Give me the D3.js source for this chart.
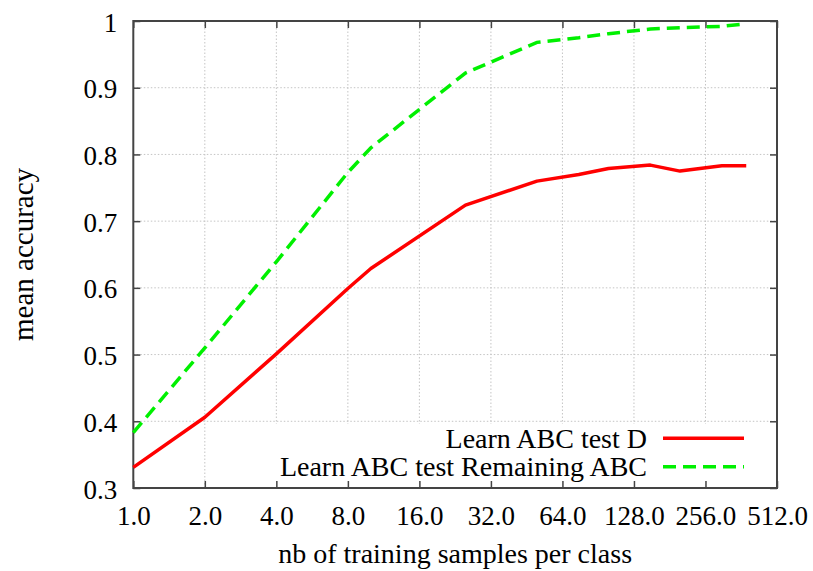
<!DOCTYPE html>
<html>
<head>
<meta charset="utf-8">
<script src="https://cdn.jsdelivr.net/npm/d3@7"></script>
<style>
  body { margin: 0; background: #fff; }
  text { font-family: "Liberation Serif", "DejaVu Serif", serif; fill: #000; }
</style>
</head>
<body>
<svg id="chart" width="813" height="571"></svg>
<script>
// ---- data ----
const samples = [1, 2, 4, 8, 10, 25, 50, 75, 100, 150, 200, 300, 380];
const testD = [0.331, 0.406, 0.501, 0.599, 0.629, 0.724, 0.760, 0.770, 0.779, 0.784, 0.775, 0.783, 0.783];
const testRemaining = [0.383, 0.510, 0.639, 0.773, 0.810, 0.922, 0.968, 0.975, 0.981, 0.988, 0.990, 0.992, 0.996];
const xTicks = [1, 2, 4, 8, 16, 32, 64, 128, 256, 512];
const yTicks = [0.3, 0.4, 0.5, 0.6, 0.7, 0.8, 0.9, 1.0];
const seriesNames = ["Learn ABC test D", "Learn ABC test Remaining ABC"];

// ---- layout ----
const L = 133.3, R = 777, T = 21, B = 488;
const FONT = 27, FONT_T = 28;
const svg = d3.select("#chart");

const x = d3.scaleLog().base(2).domain([1, 512]).range([L, R]);
const y = d3.scaleLinear().domain([0.3, 1.0]).range([B, T]);

// grid
const grid = svg.append("g").attr("stroke", "#c4c4c4").attr("stroke-width", 1).attr("stroke-dasharray", "1.5,2");
grid.selectAll("line.v").data(xTicks.slice(1, -1)).join("line")
  .attr("x1", d => x(d)).attr("x2", d => x(d)).attr("y1", T).attr("y2", B);
grid.selectAll("line.h").data(yTicks.slice(1, -1)).join("line")
  .attr("x1", L).attr("x2", R).attr("y1", d => y(d)).attr("y2", d => y(d));

// legend opaque box (covers grid)
svg.append("rect").attr("x", 268).attr("y", 424).attr("width", R - 268).attr("height", B - 424).attr("fill", "#fff");

// axes using d3 axis generators (ticks inward)
const fmtX = d3.format(".1f");
const axB = svg.append("g").attr("transform", `translate(0,${B})`)
  .call(d3.axisBottom(x).tickValues(xTicks).tickFormat(fmtX).tickSizeInner(-7).tickSizeOuter(0).tickPadding(14));
const axT = svg.append("g").attr("transform", `translate(0,${T})`)
  .call(d3.axisTop(x).tickValues(xTicks).tickFormat("").tickSizeInner(-7).tickSizeOuter(0));
const axL = svg.append("g").attr("transform", `translate(${L},0)`)
  .call(d3.axisLeft(y).tickValues(yTicks).tickFormat(d => d === 1 ? "1" : d3.format(".1f")(d)).tickSizeInner(-7).tickSizeOuter(0).tickPadding(16));
const axR = svg.append("g").attr("transform", `translate(${R},0)`)
  .call(d3.axisRight(y).tickValues(yTicks).tickFormat("").tickSizeInner(-7).tickSizeOuter(0));

[axB, axT, axL, axR].forEach(g => {
  g.select(".domain").remove();
  g.selectAll(".tick line").attr("stroke", "#444").attr("stroke-width", 1.5);
  g.selectAll("text").attr("font-size", FONT).attr("font-family", "Liberation Serif").attr("fill", "#000");
});
axB.selectAll(".tick text").attr("dy", null).attr("dominant-baseline", "alphabetic").attr("y", 37);
axL.selectAll(".tick text").attr("dy", null).attr("y", 10).attr("x", -16).attr("dominant-baseline", "alphabetic");

// frame
svg.append("rect").attr("x", L).attr("y", T).attr("width", R - L).attr("height", B - T)
  .attr("fill", "none").attr("stroke", "#444").attr("stroke-width", 2);

// lines
const pts = (vals) => samples.map((s, i) => [s, vals[i]]);
const line = d3.line().x(d => x(d[0])).y(d => y(d[1]));
svg.append("path").datum(pts(testD)).attr("d", line)
  .attr("fill", "none").attr("stroke", "#ff0000").attr("stroke-width", 3.5).attr("stroke-linejoin", "round");
svg.append("path").datum(pts(testRemaining)).attr("d", line)
  .attr("fill", "none").attr("stroke", "#00f000").attr("stroke-width", 3.5).attr("stroke-dasharray", "13,7");

// legend
const leg = [
  { name: seriesNames[0], color: "#ff0000", dash: null, yl: 438.3, yt: 448 },
  { name: seriesNames[1], color: "#00f000", dash: "13,7", yl: 466.7, yt: 476 }
];
leg.forEach(d => {
  svg.append("text").attr("x", 647).attr("y", d.yt).attr("text-anchor", "end").attr("font-size", FONT_T).text(d.name);
  svg.append("line").attr("x1", 663).attr("x2", 744).attr("y1", d.yl).attr("y2", d.yl)
    .attr("stroke", d.color).attr("stroke-width", 3.5).attr("stroke-dasharray", d.dash);
});

// axis titles
svg.append("text").attr("x", (L + R) / 2).attr("y", 563).attr("text-anchor", "middle").attr("font-size", FONT_T)
  .text("nb of training samples per class");
svg.append("text").attr("transform", `translate(33,${(T + B) / 2}) rotate(-90)`).attr("text-anchor", "middle").attr("font-size", 29)
  .text("mean accuracy");
</script>
</body>
</html>
